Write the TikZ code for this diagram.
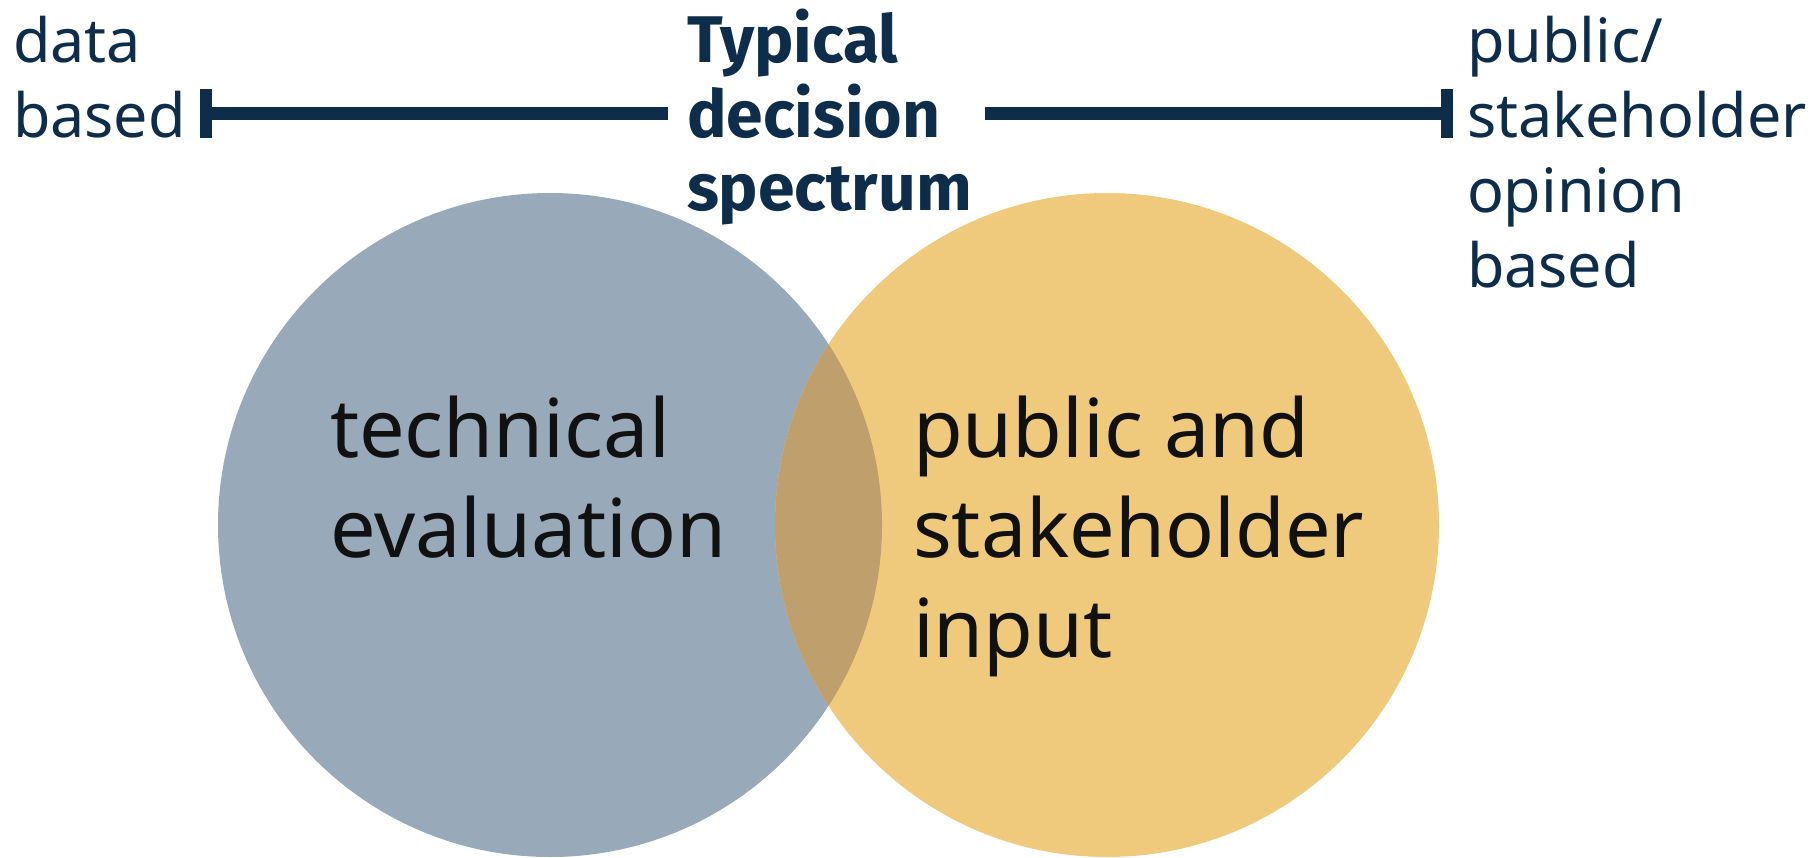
\documentclass[tikz,border=0pt]{standalone}
\usepackage{fontspec}
\setmainfont{Noto Sans}
\newfontfamily\boldfam{Fira Sans}
\usetikzlibrary{arrows.meta}
\definecolor{navy}{HTML}{0E2D4B}
\definecolor{bluec}{HTML}{98A9BA}
\definecolor{yellowc}{HTML}{EFCA7D}
\definecolor{overlapc}{HTML}{BFA06C}
\definecolor{inktext}{HTML}{111111}
\begin{document}
\begin{tikzpicture}[x=0.5pt,y=-0.5pt,
  lbl/.style={anchor=base west, inner sep=0pt, outer sep=0pt, text=navy, font=\fontsize{30.5}{37.5}\selectfont},
  blbl/.style={anchor=base west, inner sep=0pt, outer sep=0pt, text=navy, font=\boldfam\bfseries\fontsize{33}{37.5}\selectfont},
  big/.style={anchor=base west, inner sep=0pt, outer sep=0pt, text=inktext, font=\fontsize{40.5}{50}\selectfont},
  venn/.style={circle, inner sep=0pt, outer sep=0pt, minimum size=332pt},
  spec/.style={line width=6.5pt, draw=navy}]
\useasboundingbox (0,0) rectangle (1820,857);
% circles
\node[venn, fill=bluec] (tech) at (550,525) {};
\node[venn, fill=yellowc] (pub) at (1107,525) {};
\begin{scope}
  \clip (tech.center) circle[radius=166pt];
  \fill[overlapc] (pub.center) circle[radius=166pt];
\end{scope}
% circle texts
\node[big] (t1) at (330,457) {technical};
\node[big] (t2) at (330,557) {evaluation};
\node[big] (p1) at (913,457) {public and};
\node[big] (p2) at (913,557) {stakeholder};
\node[big] (p3) at (913,657) {input};
% top left label
\node[lbl] (d1) at (13,62) {data};
\node[lbl] (d2) at (13,137) {based};
% centre label
\node[blbl] (c1) at (687,62) {Typical};
\node[blbl] (c2) at (687,137) {decision};
\node[blbl] (c3) at (687,210) {spectrum};
% right label
\node[lbl] (r1) at (1467,62) {public/};
\node[lbl] (r2) at (1467,137) {stakeholder};
\node[lbl] (r3) at (1467,212) {opinion};
\node[lbl] (r4) at (1467,287) {based};
% spectrum bar
\coordinate (capL) at (200,113);
\coordinate (barLend) at (668,113);
\coordinate (barRstart) at (985,113);
\coordinate (capR) at (1453,113);
\draw[spec, {Bar[width=24.5pt, line width=6pt]}-] (capL) -- (barLend);
\draw[spec, -{Bar[width=24.5pt, line width=6pt]}] (barRstart) -- (capR);
\end{tikzpicture}
\end{document}
